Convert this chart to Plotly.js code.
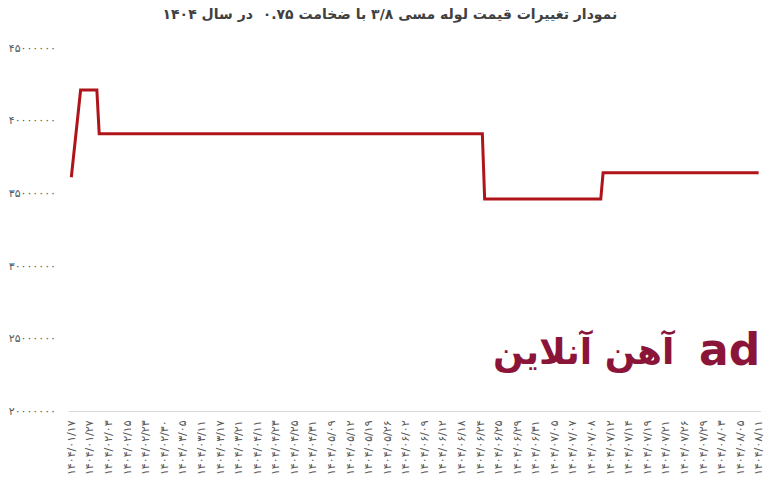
<!DOCTYPE html>
<html>
<head>
<meta charset="utf-8">
<script src="https://cdn.plot.ly/plotly-3.0.1.min.js"></script>
<style>html,body{margin:0;padding:0;background:#fff;}#chart{width:766px;height:489px;}</style>
</head>
<body>
<div id="chart"></div>
<script>
// Category labels shown on the x axis (one every 8 samples)
const dateLabels = [
  "۱۴۰۴/۰۱/۱۷","۱۴۰۴/۰۱/۲۷","۱۴۰۴/۰۲/۰۳","۱۴۰۴/۰۲/۱۵","۱۴۰۴/۰۲/۲۳","۱۴۰۴/۰۲/۳۰",
  "۱۴۰۴/۰۳/۰۵","۱۴۰۴/۰۳/۱۱","۱۴۰۴/۰۳/۱۷","۱۴۰۴/۰۳/۲۱","۱۴۰۴/۰۴/۱۱","۱۴۰۴/۰۴/۲۳",
  "۱۴۰۴/۰۴/۲۵","۱۴۰۴/۰۴/۳۱","۱۴۰۴/۰۵/۰۹","۱۴۰۴/۰۵/۱۲","۱۴۰۴/۰۵/۱۹","۱۴۰۴/۰۵/۲۶",
  "۱۴۰۴/۰۶/۰۲","۱۴۰۴/۰۶/۰۹","۱۴۰۴/۰۶/۱۲","۱۴۰۴/۰۶/۱۸","۱۴۰۴/۰۶/۲۴","۱۴۰۴/۰۶/۲۵",
  "۱۴۰۴/۰۶/۲۹","۱۴۰۴/۰۶/۳۱","۱۴۰۴/۰۷/۰۵","۱۴۰۴/۰۷/۰۷","۱۴۰۴/۰۷/۰۸","۱۴۰۴/۰۷/۱۲",
  "۱۴۰۴/۰۷/۱۴","۱۴۰۴/۰۷/۱۹","۱۴۰۴/۰۷/۲۱","۱۴۰۴/۰۷/۲۶","۱۴۰۴/۰۷/۲۹","۱۴۰۴/۰۸/۰۳",
  "۱۴۰۴/۰۸/۰۵","۱۴۰۴/۰۸/۱۱"
];
const samplesPerLabel = 8;

// Price series: sample index where the price changes, and the price (rial)
const sampleIndex = [0, 4, 11, 12, 177, 178, 228, 229, 296];
const priceValues = [36100000, 42100000, 42100000, 39100000, 39100000, 34600000, 34600000, 36400000, 36400000];

// Y axis ticks
const yTickValues = [20000000, 25000000, 30000000, 35000000, 40000000, 45000000];
const yTickLabels = ["۲۰۰۰۰۰۰۰","۲۵۰۰۰۰۰۰","۳۰۰۰۰۰۰۰","۳۵۰۰۰۰۰۰","۴۰۰۰۰۰۰۰","۴۵۰۰۰۰۰۰"];

const chartTitle = "نمودار تغییرات قیمت لوله مسی ۳/۸ با ضخامت ۰.۷۵  در سال ۱۴۰۴";
const watermarkText = "آهن آنلاین";

const xTickVals = dateLabels.map((_, i) => i * samplesPerLabel);
const lastSample = (dateLabels.length - 1) * samplesPerLabel;

const trace = {
  x: sampleIndex,
  y: priceValues,
  type: "scatter",
  mode: "lines",
  line: {color: "#b0141b", width: 3},
  hoverinfo: "skip"
};

const layout = {
  width: 766, height: 489,
  margin: {l: 69, r: 5, t: 48, b: 78},
  paper_bgcolor: "#ffffff", plot_bgcolor: "#ffffff",
  showlegend: false,
  font: {family: "DejaVu Sans, sans-serif", color: "#595959"},
  title: {
    text: "<b>" + chartTitle + "</b>",
    font: {family: "DejaVu Sans, sans-serif", size: 14, color: "#404040"},
    x: 0.509, xref: "container", xanchor: "center",
    y: 0.972, yref: "container", yanchor: "middle"
  },
  xaxis: {
    range: [-1, lastSample + 1],
    tickmode: "array", tickvals: xTickVals, ticktext: dateLabels,
    tickangle: -90,
    tickfont: {size: 11, color: "#595959"},
    showgrid: false, zeroline: false,
    showline: true, linecolor: "#d9d9d9", linewidth: 1,
    ticks: "", ticklabelstandoff: 4, fixedrange: true
  },
  yaxis: {
    range: [20000000, 45000000],
    tickmode: "array", tickvals: yTickValues, ticktext: yTickLabels,
    tickfont: {size: 11, color: "#595959"},
    showgrid: false, zeroline: false, showline: false,
    ticks: "", ticklabelstandoff: 12, fixedrange: true
  },
  annotations: [
    {
      text: "<b>" + watermarkText + "</b>", xref: "paper", yref: "paper",
      x: 0.745, y: 0.165, xanchor: "center", yanchor: "middle",
      showarrow: false,
      font: {family: "DejaVu Sans, sans-serif", size: 36, color: "#8a1538"}
    },
    {
      text: "<b>ad</b>", xref: "paper", yref: "paper",
      x: 0.955, y: 0.17, xanchor: "center", yanchor: "middle",
      showarrow: false,
      font: {family: "DejaVu Sans, sans-serif", size: 44, color: "#8a1538"}
    }
  ]
};

Plotly.newPlot("chart", [trace], layout, {displayModeBar: false, staticPlot: true});
</script>
</body>
</html>
